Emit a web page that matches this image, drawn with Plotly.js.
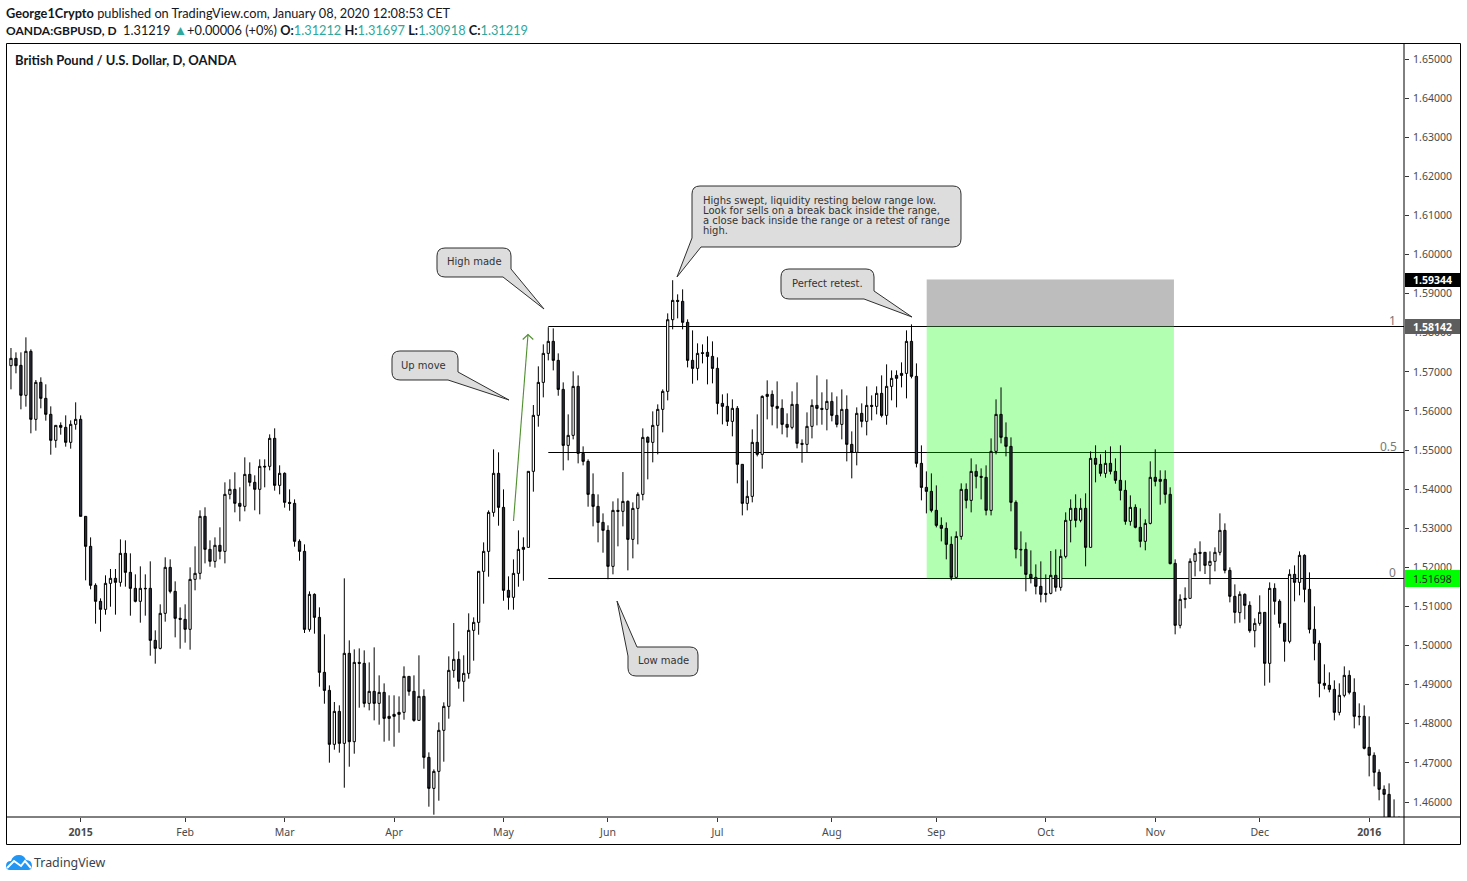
<!DOCTYPE html>
<html><head><meta charset="utf-8">
<script src="https://cdn.plot.ly/plotly-3.0.1.min.js"></script>
<style>html,body{margin:0;padding:0;background:#fff}#chart{width:1467px;height:881px}</style>
</head><body><div id="chart"></div>
<script>
const opens=[
1.57158,1.57346,1.57167,1.56400,1.57525,1.55786,1.56732,1.56323,1.55914,1.55249,
1.55632,1.55581,1.55198,1.55658,1.55786,1.53305,1.52538,1.51541,1.51132,1.50927,
1.51592,1.51720,1.51618,1.52359,1.51873,1.51464,1.51132,1.51464,1.51464,1.50134,
1.49930,1.50825,1.52001,1.51387,1.50697,1.50671,1.50416,1.51694,1.51848,1.53305,
1.52461,1.52155,1.52564,1.52410,1.53868,1.53996,1.53638,1.53561,1.54379,1.54175,
1.53996,1.54584,1.54584,1.55300,1.54098,1.54405,1.53663,1.53637,1.52666,1.52410,
1.50415,1.51310,1.50722,1.49316,1.48855,1.47475,1.48318,1.47500,1.49802,1.47543,
1.49571,1.49546,1.48523,1.48830,1.48523,1.48804,1.48191,1.48242,1.48293,1.48293,
1.49213,1.48830,1.48088,1.48702,1.47142,1.46349,1.46784,1.47833,1.48446,1.49367,
1.49648,1.49086,1.49290,1.50390,1.50594,1.51899,1.52410,1.53407,1.54405,1.53535,
1.51413,1.51234,1.51847,1.52512,1.52512,1.54456,1.55888,1.56731,1.57473,1.57780,
1.57294,1.56552,1.55120,1.55376,1.56629,1.54916,1.54711,1.53867,1.53560,1.53151,
1.52947,1.52026,1.53458,1.53433,1.53688,1.52716,1.53509,1.53867,1.55325,1.55197,
1.55632,1.56041,1.56501,1.58334,1.58828,1.58803,1.58266,1.57294,1.57089,1.57490,
1.57499,1.57396,1.57089,1.56194,1.56118,1.55734,1.56067,1.54635,1.53637,1.53816,
1.55197,1.54890,1.56425,1.56425,1.56118,1.56067,1.55657,1.55581,1.56169,1.55171,
1.55146,1.55606,1.56143,1.56066,1.56041,1.56245,1.55887,1.55657,1.56041,1.55146,
1.54941,1.55939,1.55734,1.56143,1.56118,1.56450,1.55887,1.56629,1.56910,1.56961,
1.56961,1.57780,1.56885,1.54660,1.54046,1.53944,1.53458,1.53075,1.52998,1.52589,
1.51745,1.52793,1.53995,1.53714,1.54455,1.54328,1.54302,1.53458,1.54967,1.55913,
1.55325,1.55095,1.53663,1.52461,1.52461,1.51821,1.51745,1.51515,1.51336,1.51336,
1.51797,1.51490,1.52282,1.53203,1.53510,1.53203,1.53510,1.52513,1.54788,1.54635,
1.54405,1.54661,1.54456,1.54226,1.53970,1.53177,1.53535,1.53024,1.52666,1.53126,
1.54303,1.54251,1.54251,1.53868,1.52103,1.50518,1.51208,1.51208,1.52155,1.52385,
1.52385,1.52052,1.52155,1.52385,1.52947,1.51924,1.51260,1.50842,1.51311,1.51029,
1.50381,1.50569,1.50850,1.49546,1.51464,1.51132,1.50569,1.50109,1.51822,1.51617,
1.52308,1.51438,1.50416,1.50058,1.49035,1.48984,1.48881,1.48293,1.48728,1.49239,
1.48805,1.48191,1.48191,1.47398,1.47194,1.46759,1.46324,1.46196,1.45580,1.45500];
const highs=[
1.57610,1.57499,1.57499,1.57883,1.57576,1.56792,1.56860,1.56681,1.56118,1.55632,
1.55709,1.55888,1.55760,1.56221,1.55888,1.53305,1.52768,1.51592,1.51208,1.51797,
1.51959,1.51959,1.52717,1.52692,1.52359,1.51822,1.52027,1.51822,1.52155,1.50390,
1.51055,1.52257,1.52206,1.51643,1.50978,1.51055,1.52001,1.52538,1.53459,1.53536,
1.52692,1.52768,1.53024,1.54175,1.54252,1.54431,1.54047,1.54814,1.54686,1.54354,
1.54763,1.54763,1.55402,1.55556,1.54610,1.54430,1.53995,1.53740,1.52717,1.52589,
1.51387,1.51336,1.50978,1.50288,1.48983,1.48557,1.48472,1.51720,1.50134,1.49904,
1.49929,1.49878,1.49571,1.49955,1.49239,1.49034,1.48728,1.48728,1.48702,1.49469,
1.49213,1.49239,1.49751,1.48881,1.47270,1.46835,1.48037,1.48549,1.49725,1.50577,
1.49853,1.49751,1.50825,1.50722,1.51899,1.52640,1.53458,1.55018,1.54942,1.53995,
1.51771,1.52205,1.52947,1.52768,1.54456,1.56152,1.57141,1.57703,1.58142,1.58112,
1.57473,1.56731,1.55913,1.57013,1.56910,1.55095,1.54762,1.54404,1.53867,1.53381,
1.53075,1.53688,1.53765,1.54438,1.53714,1.53663,1.53918,1.55555,1.55351,1.55990,
1.56169,1.56552,1.58496,1.59344,1.58982,1.59110,1.58342,1.58061,1.57729,1.57703,
1.57908,1.57780,1.57371,1.56425,1.56450,1.56297,1.56126,1.54635,1.54225,1.55530,
1.55913,1.56399,1.56783,1.56527,1.56757,1.56297,1.55939,1.56501,1.56731,1.55274,
1.55964,1.56297,1.56910,1.56476,1.56808,1.56476,1.56373,1.56552,1.56399,1.55478,
1.56092,1.56194,1.56629,1.56399,1.56629,1.56910,1.57192,1.57038,1.57038,1.57243,
1.58061,1.58214,1.57217,1.55120,1.54455,1.54404,1.54097,1.53279,1.53151,1.52793,
1.52921,1.54149,1.54149,1.54788,1.54634,1.54532,1.54609,1.55299,1.56297,1.56603,
1.55708,1.55325,1.53714,1.52921,1.52640,1.52435,1.52077,1.52154,1.51821,1.52419,
1.52461,1.52461,1.53408,1.53740,1.53868,1.53766,1.53893,1.54967,1.55121,1.54891,
1.54993,1.55095,1.54788,1.55121,1.54226,1.53842,1.53612,1.53510,1.53229,1.54712,
1.55019,1.54482,1.54482,1.54047,1.52206,1.51311,1.51490,1.52231,1.52487,1.52666,
1.52385,1.52410,1.52513,1.53382,1.53126,1.52001,1.51566,1.51387,1.51336,1.51132,
1.50697,1.51285,1.50850,1.51617,1.51592,1.51183,1.50569,1.51950,1.52052,1.52410,
1.52333,1.51873,1.51004,1.50134,1.49521,1.49316,1.49111,1.49035,1.49469,1.49367,
1.49163,1.48523,1.48472,1.48191,1.47270,1.46835,1.46426,1.46477,1.46068,1.45630];
const lows=[
1.56553,1.56962,1.56042,1.56110,1.55428,1.55496,1.56067,1.55752,1.54882,1.55061,
1.55394,1.55087,1.55036,1.55522,1.53305,1.51669,1.51439,1.50561,1.50356,1.50791,
1.50995,1.50791,1.51507,1.51507,1.50765,1.51106,1.50586,1.50765,1.49742,1.49538,
1.49904,1.50612,1.51336,1.50211,1.49921,1.50075,1.49896,1.51413,1.51694,1.52103,
1.52018,1.51993,1.52206,1.52103,1.53740,1.53408,1.53178,1.53433,1.54073,1.53459,
1.53357,1.54047,1.54482,1.53962,1.53868,1.53527,1.53450,1.52529,1.52171,1.50322,
1.50356,1.50305,1.48949,1.48514,1.47006,1.47338,1.47262,1.46366,1.46903,1.47236,
1.48412,1.48421,1.48344,1.48088,1.47978,1.47543,1.47568,1.47415,1.47773,1.48105,
1.48719,1.48054,1.48088,1.46852,1.45881,1.45676,1.46034,1.47031,1.48131,1.49179,
1.48898,1.48566,1.49154,1.49614,1.50279,1.51072,1.51762,1.53296,1.53066,1.51148,
1.50918,1.50918,1.51506,1.51660,1.52512,1.53936,1.55598,1.56348,1.57294,1.57038,
1.56390,1.54481,1.54737,1.55274,1.54660,1.54609,1.53552,1.53049,1.52640,1.52376,
1.51698,1.51822,1.52538,1.53049,1.51924,1.52231,1.52589,1.53714,1.54251,1.54686,
1.54890,1.55453,1.56271,1.58087,1.58368,1.58087,1.57115,1.56697,1.56783,1.57217,
1.56680,1.56706,1.55913,1.55657,1.55615,1.55351,1.54149,1.53330,1.53458,1.53663,
1.54839,1.54524,1.55785,1.55632,1.55555,1.55402,1.55325,1.55530,1.55044,1.54677,
1.54941,1.55299,1.55632,1.55649,1.55504,1.55734,1.55581,1.55274,1.54711,1.54276,
1.54609,1.55581,1.55376,1.55760,1.55913,1.55836,1.55649,1.56271,1.56092,1.56603,
1.56322,1.56834,1.54558,1.53714,1.53381,1.53407,1.53023,1.52665,1.52205,1.51668,
1.51745,1.52708,1.53509,1.53407,1.54021,1.53739,1.53330,1.53330,1.54890,1.55171,
1.54839,1.53433,1.52231,1.52026,1.51387,1.51591,1.51310,1.51105,1.51105,1.51311,
1.51379,1.51404,1.52231,1.52640,1.53024,1.53152,1.52027,1.52513,1.54175,1.54328,
1.54294,1.54379,1.54141,1.53714,1.53092,1.53067,1.52998,1.52513,1.52436,1.53101,
1.54072,1.53604,1.53638,1.52078,1.50288,1.50441,1.50953,1.51208,1.51771,1.51899,
1.51831,1.51566,1.51899,1.52308,1.51848,1.51106,1.50569,1.50586,1.50671,1.50330,
1.49955,1.50509,1.48975,1.49052,1.50791,1.50458,1.49589,1.50058,1.51132,1.51285,
1.51106,1.50313,1.49623,1.48677,1.48881,1.48805,1.48088,1.48216,1.48677,1.48753,
1.47884,1.47961,1.47347,1.46656,1.46401,1.46043,1.45500,1.45300,1.45100,1.45300];
const closes=[
1.57346,1.57158,1.56400,1.57525,1.55786,1.56732,1.56323,1.55914,1.55249,1.55632,
1.55581,1.55198,1.55658,1.55786,1.53305,1.52538,1.51541,1.51132,1.50927,1.51592,
1.51720,1.51618,1.52359,1.51873,1.51464,1.51132,1.51464,1.51455,1.50134,1.49930,
1.50825,1.52001,1.51387,1.50697,1.50671,1.50416,1.51694,1.51848,1.53305,1.52461,
1.52155,1.52564,1.52410,1.53868,1.53996,1.53638,1.53561,1.54379,1.54175,1.53996,
1.54584,1.54570,1.55300,1.54098,1.54405,1.53663,1.53637,1.52666,1.52410,1.50415,
1.51310,1.50722,1.49316,1.48855,1.47475,1.48318,1.47500,1.49802,1.47543,1.49571,
1.49546,1.48523,1.48830,1.48523,1.48804,1.48139,1.48139,1.48191,1.48242,1.49213,
1.48830,1.48088,1.48702,1.47142,1.46349,1.46784,1.47833,1.48446,1.49367,1.49648,
1.49086,1.49290,1.50390,1.50594,1.51899,1.52410,1.53407,1.54405,1.53535,1.51413,
1.51234,1.51847,1.52461,1.52461,1.54456,1.55888,1.56731,1.57473,1.57780,1.57294,
1.56552,1.55120,1.55376,1.56629,1.54916,1.54711,1.53867,1.53560,1.53151,1.52947,
1.52026,1.53458,1.53433,1.53688,1.52716,1.53509,1.53867,1.55325,1.55197,1.55632,
1.56041,1.56501,1.58334,1.58828,1.58803,1.58266,1.57294,1.57089,1.57473,1.57473,
1.57396,1.57089,1.56194,1.56118,1.55734,1.56067,1.54635,1.53637,1.53816,1.55197,
1.54890,1.56373,1.56373,1.56118,1.56067,1.55657,1.55581,1.56169,1.55171,1.55146,
1.55606,1.56143,1.56066,1.56041,1.56245,1.55887,1.55657,1.56041,1.55146,1.54941,
1.55939,1.55734,1.56143,1.56118,1.56450,1.55887,1.56629,1.56834,1.56834,1.56910,
1.57780,1.56885,1.54660,1.54046,1.53944,1.53458,1.53075,1.52998,1.52589,1.51745,
1.52793,1.53995,1.53714,1.54455,1.54328,1.54302,1.53458,1.54967,1.55913,1.55325,
1.55095,1.53663,1.52461,1.52451,1.51821,1.51719,1.51515,1.51310,1.51310,1.51797,
1.51490,1.52282,1.53203,1.53510,1.53203,1.53510,1.52513,1.54788,1.54635,1.54405,
1.54661,1.54456,1.54226,1.53970,1.53177,1.53535,1.53024,1.52666,1.53126,1.54303,
1.54200,1.54200,1.53868,1.52095,1.50518,1.51183,1.51183,1.52155,1.52359,1.52359,
1.52052,1.52155,1.52385,1.52947,1.51924,1.51260,1.50850,1.51311,1.51029,1.50381,
1.50569,1.50850,1.49546,1.51464,1.51132,1.50569,1.50109,1.51822,1.51617,1.52308,
1.51438,1.50416,1.50058,1.49035,1.48984,1.48881,1.48293,1.48728,1.49239,1.48805,
1.48191,1.48181,1.47373,1.47194,1.46759,1.46324,1.46196,1.45600,1.45300,1.45400];

const tickBars=[14,35,55,77,99,120,142,165,186,208,230,251,273];
const tickLabels=['<b>2015</b>','Feb','Mar','Apr','May','Jun','Jul','Aug','Sep','Oct','Nov','Dec','<b>2016</b>'];
const rangeHigh=1.58160, rangeMid=1.54938, rangeLow=1.51716, sweptHigh=1.59362;
const rangeStartBar=108, boxStartBar=184.06, boxEndBar=233.76;

// pixel → paper helpers (plot area 7..1404 x 44..817)
const L=7,R=1404,T=44,B=817;
const px=x=>(x-L)/(R-L), py=y=>(B-y)/(B-T);
const XR=[-0.8,280.0], YR=[1.45617,1.65384];

function P(cmds){return cmds.map(c=>{let s=c[0];for(let i=1;i<c.length;i+=2)s+=' '+px(c[i]).toFixed(5)+','+py(c[i+1]).toFixed(5);return s;}).join(' ')+' Z';}
function calloutPath(x0,y0,x1,y1,corner,a,tip,b){
  const r=8;const c=[['M',x0+r,y0]];
  if(corner==='tl'){c.length=0;c.push(['M',b[0],b[1]]);}
  c.push(['L',x1-r,y0],['Q',x1,y0,x1,y0+r]);
  if(corner==='br'){c.push(['L',b[0],b[1]],['L',tip[0],tip[1]],['L',a[0],a[1]]);}
  else{c.push(['L',x1,y1-r],['Q',x1,y1,x1-r,y1]);}
  if(corner==='bl'){c.push(['L',a[0],a[1]],['L',tip[0],tip[1]],['L',b[0],b[1]]);}
  else{c.push(['L',x0+r,y1],['Q',x0,y1,x0,y1-r]);}
  if(corner==='tl'){c.push(['L',a[0],a[1]],['L',tip[0],tip[1]]);}
  else{c.push(['L',x0,y0+r],['Q',x0,y0,x0+r,y0]);}
  return P(c);
}
const callouts=[
 {p:[392,351,458,380,'br',[448,380],[509,400],[458,372]],text:[['Up move',424,365.5,'center']]},
 {p:[437,248,511,277,'br',[503,277],[544,309],[511,269]],text:[['High made',474,261.5,'center']]},
 {p:[781,269,874,299,'br',[864,299],[912,317],[874,291]],text:[['Perfect retest.',827,283.5,'center']]},
 {p:[692,186,961,247,'bl',[701,247],[677,277],[692,238]],text:[
   ['Highs swept, liquidity resting below range low.',703,200.5,'left'],
   ['Look for sells on a break back inside the range,',703,210.5,'left'],
   ['a close back inside the range or a retest of range',703,220.5,'left'],
   ['high.',703,230.5,'left']]},
 {p:[628,647,698,676,'tl',[628,656],[617,601],[637,647]],text:[['Low made',663,660.5,'center']]}
];

const shapes=[
 {type:'line',layer:'below',xref:'x',yref:'y',x0:rangeStartBar,x1:XR[1],y0:rangeHigh,y1:rangeHigh,line:{color:'#000',width:1}},
 {type:'line',layer:'below',xref:'x',yref:'y',x0:rangeStartBar,x1:XR[1],y0:rangeMid,y1:rangeMid,line:{color:'#000',width:1}},
 {type:'line',layer:'below',xref:'x',yref:'y',x0:rangeStartBar,x1:XR[1],y0:rangeLow,y1:rangeLow,line:{color:'#000',width:1}},
 {type:'rect',layer:'below',xref:'x',yref:'y',x0:boxStartBar,x1:boxEndBar,y0:rangeHigh,y1:sweptHigh,fillcolor:'rgba(128,128,128,0.52)',line:{width:0}},
 {type:'rect',layer:'below',xref:'x',yref:'y',x0:boxStartBar,x1:boxEndBar,y0:rangeLow,y1:rangeHigh,fillcolor:'rgba(0,255,0,0.3)',line:{width:0}},
 // outer frame & pane separators
 {type:'rect',xref:'paper',yref:'paper',x0:px(6.5),x1:px(1460.5),y0:py(43.5),y1:py(844.5),line:{color:'#000',width:1}},
 {type:'line',xref:'paper',yref:'paper',x0:px(1404),x1:px(1404),y0:py(43.5),y1:py(844.5),line:{color:'#000',width:1}},
 {type:'line',xref:'paper',yref:'paper',x0:px(6.5),x1:px(1460.5),y0:py(817),y1:py(817),line:{color:'#000',width:1}},
 // price tags
 {type:'rect',xref:'paper',yref:'paper',x0:px(1405),x1:px(1460),y0:py(273),y1:py(287),fillcolor:'#000',line:{width:0}},
 {type:'rect',xref:'paper',yref:'paper',x0:px(1405),x1:px(1460),y0:py(319),y1:py(334),fillcolor:'#5d5d5d',line:{width:0}},
 {type:'rect',xref:'paper',yref:'paper',x0:px(1405),x1:px(1460),y0:py(570),y1:py(587),fillcolor:'#00ff00',line:{width:0}},
 // up-move arrow
 {type:'path',xref:'paper',yref:'paper',path:P([['M',513.5,521],['L',528,334.5]]).replace(' Z',''),line:{color:'#4f8f2f',width:1.1}},
 {type:'path',xref:'paper',yref:'paper',path:P([['M',522.7,339.5],['L',528,334.5],['L',533.3,339.5]]).replace(' Z',''),line:{color:'#4f8f2f',width:1.1}},
 // TradingView mark
 {type:'path',xref:'paper',yref:'paper',fillcolor:'#2196f3',line:{width:0},
  path:P([['M',6,866],['Q',6,861,11,861],['Q',13,855,19,855],['Q',24,855,26,860],['Q',32,860,32,866],['Q',32,870,28,870],['L',10,870],['Q',6,870,6,866]])},
 {type:'path',xref:'paper',yref:'paper',line:{color:'#fff',width:2},
  path:P([['M',7,868],['L',14,861],['L',21,866],['L',25,861],['L',31,868]]).replace(' Z','')}
];
const annFont={family:'"DejaVu Sans",sans-serif',size:10,color:'#333'};
callouts.forEach(c=>{
  shapes.push({type:'path',xref:'paper',yref:'paper',path:calloutPath(...c.p),fillcolor:'#dddddd',line:{color:'#2f2f2f',width:1}});
});
const annotations=[];
function txt(t,x,y,a,font){annotations.push({xref:'paper',yref:'paper',x:px(x),y:py(y),text:t,showarrow:false,xanchor:a,yanchor:'middle',font:font,borderpad:0,borderwidth:0,captureevents:false});}
callouts.forEach(c=>c.text.forEach(t=>txt(t[0],t[1],t[2],t[3],annFont)));
const hdr={family:'Lato,sans-serif',size:12.75,color:'#131722'};
const teal=s=>'<span style="color:#2fa79b">'+s+'</span>';
txt('<b>George1Crypto</b> published on TradingView.com, January 08, 2020 12:08:53 CET',6,13,'left',hdr);
txt('<span style="font-size:12px"><b>OANDA:GBPUSD, D</b></span>&nbsp; 1.31219 <span style="color:#2fa79b;font-size:13.5px">▲</span>+0.00006 (+0%) <b>O:</b>'+teal('1.31212')+' <b>H:</b>'+teal('1.31697')+' <b>L:</b>'+teal('1.30918')+' <b>C:</b>'+teal('1.31219'),6,30,'left',hdr);
const lvl={family:'"Noto Sans",sans-serif',size:12,color:'#777'};
txt('1',1392,320,'center',lvl);txt('0.5',1388,446,'center',lvl);txt('0',1392,572,'center',lvl);
const tagW={family:'"Noto Sans",sans-serif',size:10.5,color:'#fff'};
txt('<b>1.59344</b>',1413,280,'left',tagW);txt('<b>1.58142</b>',1413,326.5,'left',tagW);
txt('1.51698',1413,578.5,'left',{family:'"Noto Sans",sans-serif',size:10.5,color:'#222'});
txt('TradingView',34,863,'left',{family:'"Noto Sans",sans-serif',size:12.4,color:'#3a3f4a'});

const trace={type:'candlestick',x:opens.map((_,i)=>i),open:opens,high:highs,low:lows,close:closes,
 whiskerwidth:0,hoverinfo:'skip',
 increasing:{line:{color:'#000',width:1},fillcolor:'#ffffff'},
 decreasing:{line:{color:'#000',width:1},fillcolor:'#2a2e39'}};
const axisFont={family:'"Noto Sans",sans-serif',size:10.5,color:'#4a4a4a'};
Plotly.newPlot('chart',[trace],{
 width:1467,height:881,autosize:false,showlegend:false,hovermode:false,
 paper_bgcolor:'#fff',plot_bgcolor:'#fff',boxgap:0.35,
 margin:{l:L,r:1467-R,t:T,b:881-B,pad:0},
 title:{text:'<b>British Pound / U.S. Dollar, D, OANDA</b>',x:15/1467,xanchor:'left',y:1-60/881,yanchor:'middle',font:{family:'Lato,sans-serif',size:13,color:'#131722'}},
 xaxis:{type:'linear',range:XR,tickmode:'array',tickvals:tickBars,ticktext:tickLabels,ticks:'outside',ticklen:4,tickwidth:1,tickcolor:'#333',ticklabelstandoff:1,showgrid:false,zeroline:false,showline:false,tickfont:axisFont,rangeslider:{visible:false},fixedrange:true},
 yaxis:{type:'linear',side:'right',range:YR,tick0:1.46,dtick:0.01,tickformat:'.5f',ticks:'outside',ticklen:4,tickwidth:1,tickcolor:'#333',ticklabelstandoff:2,showgrid:false,zeroline:false,showline:false,tickfont:axisFont,fixedrange:true},
 shapes:shapes,annotations:annotations
},{staticPlot:true,displayModeBar:false});
</script></body></html>
